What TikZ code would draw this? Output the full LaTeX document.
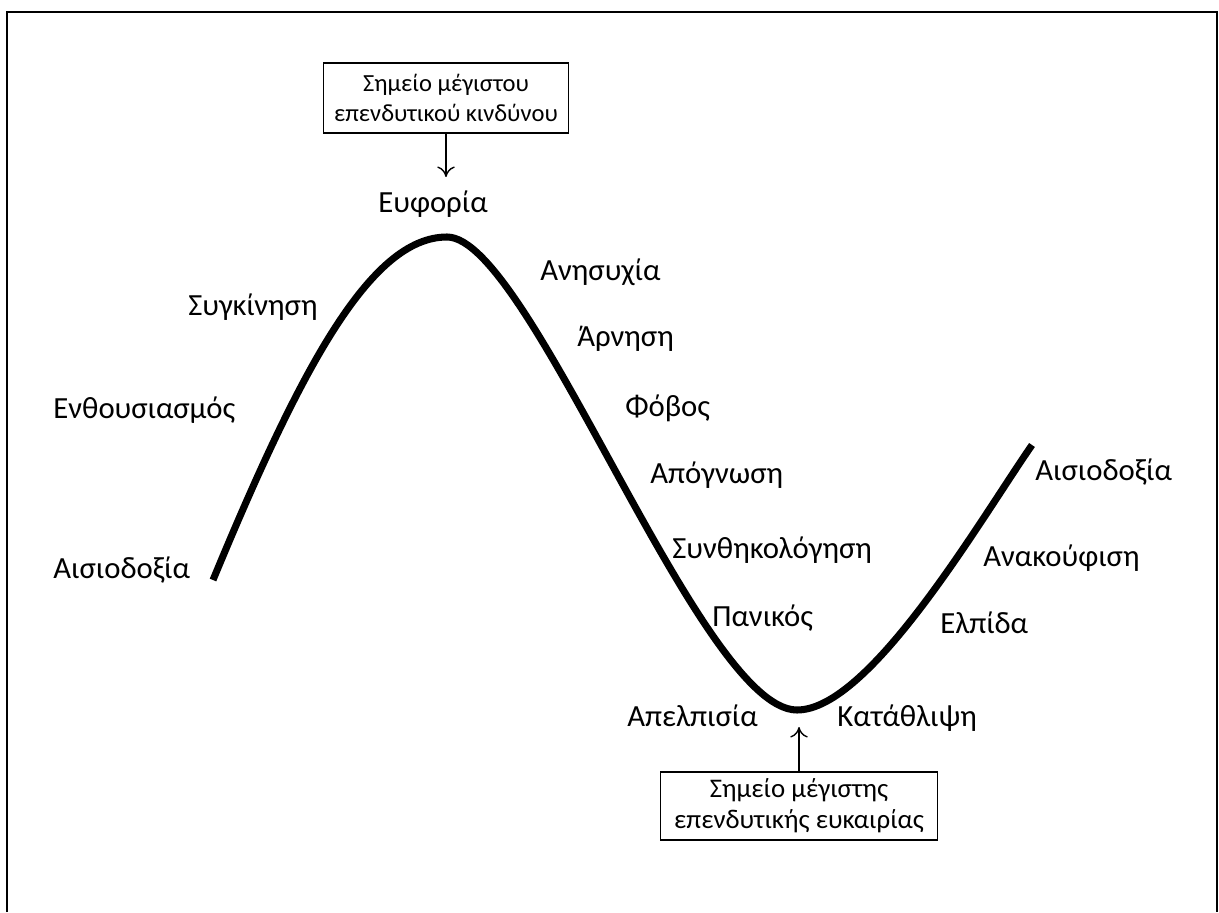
\documentclass[tikz,border=0pt]{standalone}
\usepackage{fontspec}
\setmainfont{Carlito}
\usetikzlibrary{arrows.meta}

\begin{document}
\begin{tikzpicture}[x=0.02cm,y=-0.02cm,
  stage/.style={anchor=base west,inner sep=0pt,font=\fontsize{17.5}{21}\selectfont},
  notebox/.style={draw,line width=0.6pt,align=center,inner sep=0pt,
                  font=\fontsize{15.3}{17.5}\selectfont},
  pointer/.style={-{To[length=6pt,width=10pt]},line width=0.8pt}]
\useasboundingbox (0,0) rectangle (1219,912);
% the frame
  \draw[line width=1.2pt] (7,912) -- (7,12) -- (1217,12) -- (1217,912);
% the cycle
  \draw[line width=4pt] (213,580) .. controls (300,370) and (370,237) .. (447,237)
    .. controls (530,237) and (700,710) .. (797,710)
    .. controls (870,710) and (980,520) .. (1032,445);
% boxes
  \node[notebox,minimum width=4.9cm,minimum height=1.4cm,
        font=\fontsize{14}{17}\selectfont] (risk) at (446,98)
    {Σημείο μέγιστου\\επενδυτικού κινδύνου};
  \node[notebox,minimum width=5.54cm,minimum height=1.36cm] (chance) at (799,806)
    {Σημείο μέγιστης\\επενδυτικής ευκαιρίας};
  \coordinate (peaktip) at (446,177);
  \coordinate (bottomtip) at (799,727);
  \draw[pointer] (risk) -- (peaktip);
  \draw[pointer] (chance) -- (bottomtip);
% labels
  \node[stage] (euphoria) at (378,213) {Ευφορία};
  \node[stage] (emotion) at (188,315) {Συγκίνηση};
  \node[stage] (enthusiasm) at (53,418) {Ενθουσιασμός};
  \node[stage] (optimismA) at (53,578) {Αισιοδοξία};
  \node[stage] (anxiety) at (540,280) {Ανησυχία};
  \node[stage] (denial) at (577,346) {Άρνηση};
  \node[stage] (fear) at (625,416) {Φόβος};
  \node[stage] (despair) at (650,483) {Απόγνωση};
  \node[stage] (surrender) at (672,558) {Συνθηκολόγηση};
  \node[stage] (panic) at (712,626) {Πανικός};
  \node[stage] (hopeless) at (627,726) {Απελπισία};
  \node[stage] (depression) at (837,726) {Κατάθλιψη};
  \node[stage] (hope) at (940,633) {Ελπίδα};
  \node[stage] (relief) at (983,566) {Ανακούφιση};
  \node[stage] (optimismB) at (1035,480) {Αισιοδοξία};
\end{tikzpicture}
\end{document}
